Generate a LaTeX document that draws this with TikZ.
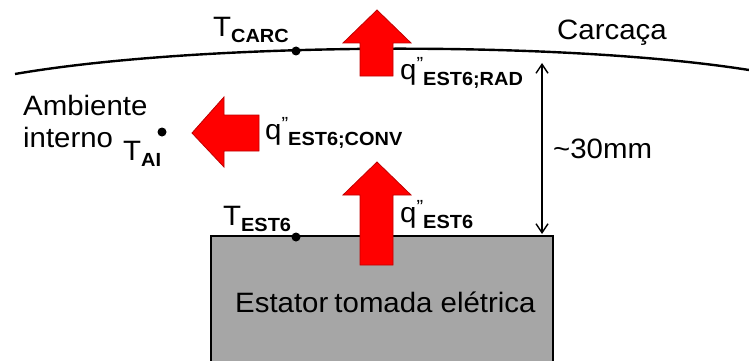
\documentclass[tikz,border=0pt]{standalone}
\usepackage{fontspec}
\setmainfont[FakeStretch=1.05]{Liberation Sans}
\usepackage{tikz}
\usetikzlibrary{
  arrows.meta,   % Straight Barb tips
  positioning    % relative placement
}
\definecolor{statorgray}{HTML}{A6A6A6}
\definecolor{heatred}{HTML}{FF0000}
\tikzset{
  heat arrow/.style={
    fill=heatred,
    draw=red!75!black,
    line width=0.8pt
  },
  wall line/.style={
    line width=2.4pt,
    color=black
  },
  gap line/.style={
    {Straight Barb[length=9pt,width=12pt]}-{Straight Barb[length=9pt,width=12pt]},
    line width=1.4pt
  },
  probe dot/.style={
    circle,
    fill=black,
    inner sep=0pt,
    minimum size=9pt
  },
  big text/.style={
    font=\fontsize{28}{32}\selectfont,
    inner sep=0pt
  }
}
% sub-indices and heat flux labels
\newcommand{\subidx}[1]{\raisebox{-6pt}{\fontsize{19}{19}\selectfont\bfseries #1}}
\newcommand{\tlabel}[1]{T\subidx{#1}}
\newcommand{\qlabel}[1]{q\raisebox{9pt}{\fontsize{19}{19}\selectfont ”}\subidx{#1}}

\begin{document}
\begin{tikzpicture}[x=1pt, y=-1pt]
    \useasboundingbox (0,0) rectangle (749,361);

    % estator (bloco cinza)
    \draw[fill=statorgray, line width=2.4pt] (211,375) -- (211,236) -- (553,236) -- (553,375);
    \node[big text, anchor=base west] (stator) at (235,312) {Estator\hspace{-2pt} tomada el\'etrica};

    % carcaça (curva)
    \draw[wall line] (15,74) .. controls (200,42) and (560,40) .. (749,70);
    \node[big text, anchor=base west] (carc) at (557,40) {Carcaça};

    % distancia estator - carcaca
    \coordinate (gaptop) at (542,63);
    \coordinate (gapbot) at (542,234);
    \draw[gap line] (gaptop) -- (gapbot);
    \node[big text, anchor=base west] (gap) at (553,158) {{\char`\~}30mm};

    % temperaturas
    \node[probe dot] (Tcarc) at (296,51) {};
    \node[big text, anchor=base west] (Tcarclbl) at (213,37) {\tlabel{CARC}};
    \node[probe dot] (Test) at (296,237) {};
    \node[big text, anchor=base west] (Testlbl) at (223,225) {\tlabel{EST6}};
    \node[probe dot] (Tai) at (162,132) {};
    \node[big text, anchor=base west] (Tailbl) at (123,160) {\tlabel{AI}};

    % ambiente interno
    \node[big text, anchor=base west] (amb1) at (23,115) {Ambiente};
    \node[big text, anchor=base west] (amb2) at (23,147) {interno};

    % setas de calor
    % radiacao (para cima, sobre a carcaca)
    \draw[heat arrow] (377,10) -- (411,43) -- (393,43) -- (393,76)
      -- (360,76) -- (360,43) -- (343,43) -- cycle;
    % conveccao (para a esquerda)
    \draw[heat arrow] (192,133) -- (224,97) -- (224,115) -- (259,115)
      -- (259,151) -- (224,151) -- (224,167) -- cycle;
    % fluxo do estator (para cima)
    \draw[heat arrow] (377,162) -- (411,195) -- (393,195) -- (393,265)
      -- (360,265) -- (360,195) -- (343,195) -- cycle;

    % rotulos dos fluxos
    \node[big text, anchor=base west] (qrad) at (400,79) {\qlabel{EST6;RAD}};
    \node[big text, anchor=base west] (qconv) at (265,139) {\qlabel{EST6;CONV}};
    \node[big text, anchor=base west] (qest) at (400,222) {\qlabel{EST6}};

\end{tikzpicture}
\end{document}
